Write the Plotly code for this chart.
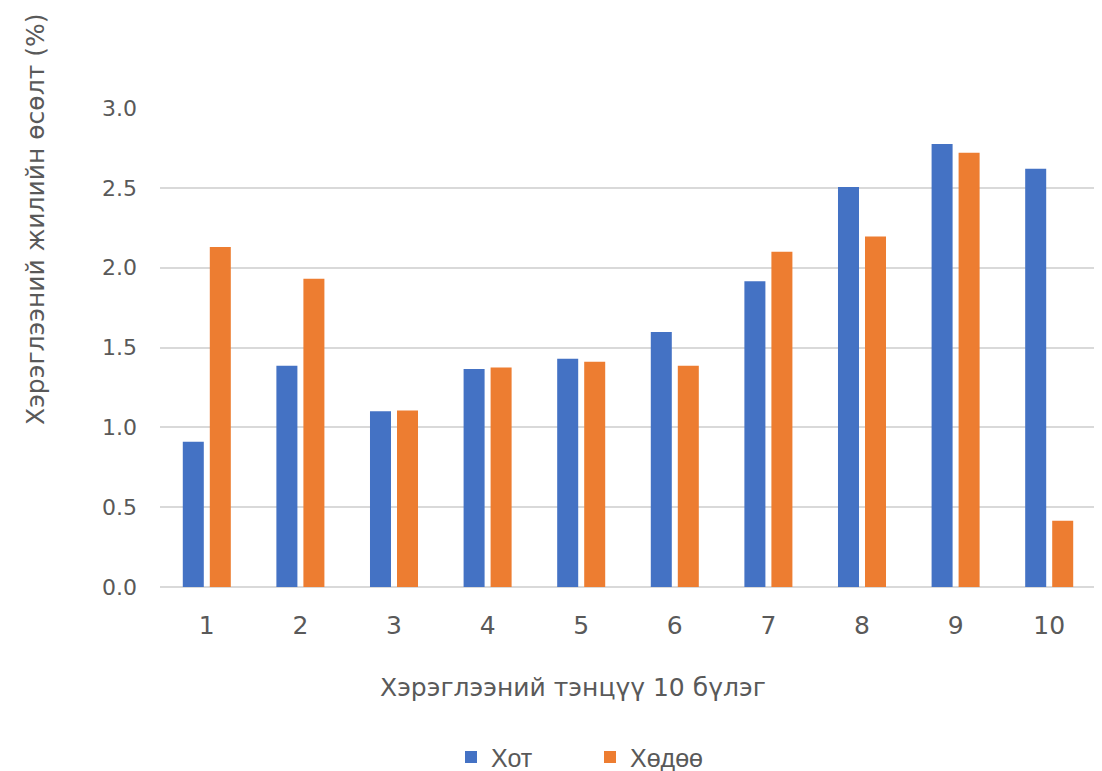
import plotly.graph_objects as go

categories = ["1", "2", "3", "4", "5", "6", "7", "8", "9", "10"]
khot = [0.91, 1.385, 1.10, 1.365, 1.43, 1.597, 1.915, 2.505, 2.775, 2.62]
khodoo = [2.13, 1.93, 1.105, 1.375, 1.41, 1.385, 2.10, 2.195, 2.72, 0.415]
y_ticks = [0.0, 0.5, 1.0, 1.5, 2.0, 2.5, 3.0]
y_tick_text = ["0.0", "0.5", "1.0", "1.5", "2.0", "2.5", "3.0"]
x_title = "Хэрэглээний тэнцүү 10 бүлэг"
y_title = "Хэрэглээний жилийн өсөлт (%)"

FONT = "DejaVu Sans, sans-serif"
GRAY = "#595959"

fig = go.Figure()
fig.add_trace(go.Bar(name="Хот", x=categories, y=khot, marker_color="#4472C4",
                     marker_line=dict(width=0)))
fig.add_trace(go.Bar(name="Хөдөө", x=categories, y=khodoo, marker_color="#ED7D31",
                     marker_line=dict(width=0)))

fig.update_layout(
    width=1094, height=763,
    margin=dict(l=152, r=6, t=100, b=184),
    plot_bgcolor="white", paper_bgcolor="white",
    barmode="group", bargap=0.423, bargroupgap=0.222,
    font=dict(family=FONT, size=22, color=GRAY),
    legend=dict(orientation="h", x=(451 - 160) / 936, xanchor="left",
                yref="container", y=0.018, yanchor="middle",
                font=dict(family="Liberation Sans, Arial, sans-serif", size=25, color=GRAY),
                entrywidth=94, entrywidthmode="pixels"),
    xaxis=dict(
        showgrid=False, showline=False, ticks="", ticklabelstandoff=21,
        tickfont=dict(size=25, color=GRAY),
    ),
    yaxis=dict(
        range=[0, 3.0], tickvals=y_ticks, ticktext=y_tick_text,
        showgrid=True, gridcolor="#D9D9D9", gridwidth=1.5,
        zeroline=True, zerolinecolor="#D9D9D9", zerolinewidth=2,
        ticks="", ticklabelstandoff=22,
        tickfont=dict(size=22, color=GRAY),
    ),
    annotations=[
        dict(text=x_title, xref="paper", yref="paper",
             x=(573 - 160) / 936, y=-(687 - 587) / 479,
             xanchor="center", yanchor="middle", showarrow=False,
             font=dict(size=25, color=GRAY)),
        dict(text=y_title, xref="paper", yref="paper", textangle=-90,
             x=(35 - 160) / 936, y=(587 - 220) / 479,
             xanchor="center", yanchor="middle", showarrow=False,
             font=dict(size=25, color=GRAY)),
    ],
)

fig.write_html("out.html")
